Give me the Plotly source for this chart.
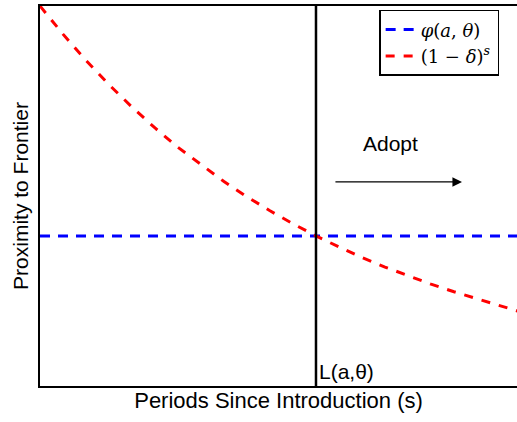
import plotly.graph_objects as go

# Data
periods = [0, 1, 2, 3, 4, 5, 6, 7, 8, 9, 10, 11, 12, 13, 14, 15, 16, 17, 18, 19, 20, 21]
depreciation = [1.0, 0.926, 0.857, 0.793, 0.734, 0.679, 0.628, 0.582, 0.538, 0.498, 0.461,
                0.427, 0.395, 0.366, 0.338, 0.313, 0.290, 0.268, 0.248, 0.230, 0.211, 0.193]
phi_x = [0, 21]
phi_y = [0.395, 0.395]
adopt_lag = 12          # L(a, theta)
x_max = 20.74
arrow_tail = 12.78
arrow_head = 18.35
arrow_level = 0.537

fig = go.Figure()
fig.add_trace(go.Scatter(x=phi_x, y=phi_y, mode="lines",
                         name="<i>φ</i>(<i>a</i>, <i>θ</i>)  ",
                         line=dict(color="#0000ff", width=3, dash="10px,8px")))
fig.add_trace(go.Scatter(x=periods, y=depreciation, mode="lines",
                         name="(1 − <i>δ</i>)<sup><i>s</i></sup>",
                         line=dict(color="#ff0000", width=3, dash="9px,9px")))

fig.add_shape(type="line", x0=adopt_lag, x1=adopt_lag, y0=0, y1=1, xref="x", yref="y",
              line=dict(color="black", width=2.5))

fig.add_annotation(x=arrow_head, y=arrow_level, ax=arrow_tail, ay=arrow_level,
                   xref="x", yref="y", axref="x", ayref="y", text="",
                   showarrow=True, arrowhead=2, arrowsize=1.6, arrowwidth=1.2,
                   arrowcolor="black")
fig.add_annotation(x=15.25, y=0.639, text="Adopt", showarrow=False,
                   font=dict(family="Liberation Sans, Arial", size=21, color="black"))
fig.add_annotation(x=12.05, y=0.037, text="L(a,θ)", showarrow=False, xanchor="left",
                   font=dict(family="Liberation Sans, Arial", size=21, color="black"))

fig.update_layout(
    width=517, height=422,
    margin=dict(l=40, r=0, t=6, b=36),
    paper_bgcolor="white", plot_bgcolor="white",
    showlegend=True,
    legend=dict(x=0.711, y=0.99, xanchor="left", yanchor="top",
                bgcolor="white", bordercolor="black", borderwidth=1.5,
                font=dict(family="DejaVu Serif", size=18, color="black"),
                tracegroupgap=0, itemwidth=30),
    xaxis=dict(range=[0, x_max], showline=True, mirror=True, linecolor="black",
               linewidth=2, showgrid=False, zeroline=False, ticks="",
               showticklabels=False,
               title=dict(text="Periods Since Introduction (s)", standoff=6,
                          font=dict(family="Liberation Sans, Arial", size=22, color="black"))),
    yaxis=dict(range=[0, 1], showline=True, linecolor="black", linewidth=2,
               showgrid=False, zeroline=False, ticks="", showticklabels=False,
               title=dict(text="Proximity to Frontier", standoff=4,
                          font=dict(family="Liberation Sans, Arial", size=21, color="black"))),
)

fig.write_html("out.html")
